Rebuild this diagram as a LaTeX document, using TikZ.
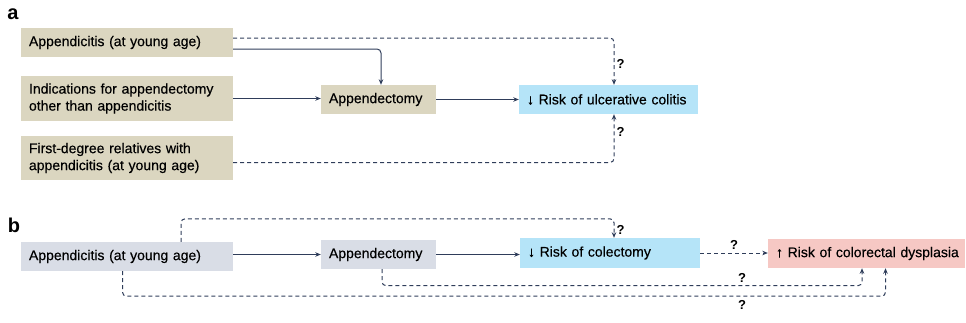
\documentclass[tikz,border=0pt]{standalone}
\usepackage{fontspec}
\setmainfont{Liberation Sans}
\newfontfamily\boxfont[FakeBold=0.35]{Liberation Sans}
\usetikzlibrary{arrows.meta,calc}
\definecolor{beigebox}{HTML}{DBD6C0}
\definecolor{greybox}{HTML}{D9DDE6}
\definecolor{bluebox}{HTML}{B5E4F8}
\definecolor{pinkbox}{HTML}{F6C8C4}
\definecolor{navy}{HTML}{2F3D5A}
\begin{document}
\begin{tikzpicture}[x=1pt,y=-1pt,
  box/.style={rectangle, inner xsep=8pt, inner ysep=0pt, align=left,
    font=\boxfont\fontsize{14}{17}\selectfont, text=black},
  conn/.style={draw=navy, line width=1pt, -{Stealth[length=5.5pt,width=4.5pt]}},
  dconn/.style={conn, dash pattern=on 4pt off 3pt, rounded corners=4pt},
  qmark/.style={font=\bfseries\fontsize{13}{15}\selectfont, text=black, inner sep=2pt},
  panel/.style={font=\bfseries\fontsize{20}{22}\selectfont, text=black, inner sep=0pt}
]
\useasboundingbox (0,0) rectangle (966,322);
% panel a
\node[panel] (la) at (13,14) {a};
\node[box, fill=beigebox, text width=196pt, minimum height=29pt] (A1) at (127,42.5) {Appendicitis (at young age)};
\node[box, fill=beigebox, text width=196pt, minimum height=45pt] (A2) at (127,98.5) {Indications for appendectomy\\other than appendicitis};
\node[box, fill=beigebox, text width=196pt, minimum height=44pt] (A3) at (127,158) {First-degree relatives with\\appendicitis (at young age)};
\node[box, fill=beigebox, text width=99pt, minimum height=29pt] (Ap) at (378.5,99.5) {Appendectomy};
\node[box, fill=bluebox, text width=163pt, minimum height=29pt] (UC) at (608.5,99.5) {↓ Risk of ulcerative colitis};

\draw[conn] (A2.east) -- (A2.east -| Ap.west);
\draw[conn] (Ap.east) -- (Ap.east -| UC.west);
\draw[conn, rounded corners=4pt] ([yshift=-6.5pt]A1.east) -| ([xshift=2.5pt]Ap.north);
\draw[dconn] ([yshift=4.5pt]A1.east) -| node[qmark, right, pos=0.78] {?} ([xshift=5.5pt]UC.north);
\draw[dconn] ([yshift=-4.5pt]A3.east) -| node[qmark, right, pos=0.82] {?} ([xshift=5.5pt]UC.south);

% panel b
\node[panel] (lb) at (14,225) {b};
\node[box, fill=greybox, text width=196pt, minimum height=29pt] (B1) at (127,256.5) {Appendicitis (at young age)};
\node[box, fill=greybox, text width=99pt, minimum height=29pt] (ApB) at (378.5,254.5) {Appendectomy};
\node[box, fill=bluebox, text width=164pt, minimum height=30pt] (Col) at (610,253) {↓ Risk of colectomy};
\node[box, fill=pinkbox, text width=181pt, minimum height=29pt] (Dys) at (866.5,253.5) {\mbox{↑ Risk of colorectal dysplasia}};

\draw[conn] (ApB.west -| B1.east) -- (ApB.west);
\draw[conn] (ApB.east) -- (ApB.east -| Col.west);
\draw[dconn] (Col.east) -- node[qmark, above=1pt] {?} (Col.east -| Dys.west);
\draw[dconn] ([xshift=54pt]B1.north) -- ++(0,-23) -| node[qmark, right, pos=0.8] {?} ([xshift=4pt]Col.north);
\draw[dconn] ([xshift=3.5pt]ApB.south) -- ++(0,16.5) -| node[qmark, above=1pt, pos=0.375] {?} ([xshift=-4.5pt]Dys.south);
\draw[dconn] ([xshift=-4.5pt]B1.south) -- ++(0,25) -| node[qmark, below=2pt, pos=0.406] {?} ([xshift=19pt]Dys.south);
\end{tikzpicture}
\end{document}
